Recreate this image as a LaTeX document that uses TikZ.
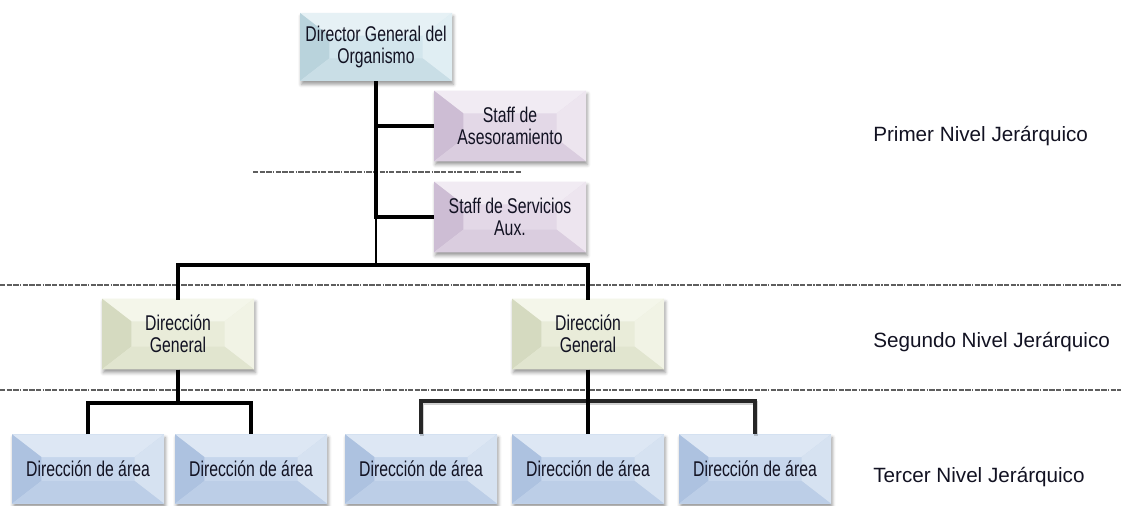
\documentclass[tikz,border=0pt]{standalone}
\usepackage{fontspec}
\setmainfont{Liberation Sans}
\newfontfamily\narrowfont[FakeStretch=0.74]{Liberation Sans}
\usetikzlibrary{shadows.blur}

% box palettes: face / light bevel / dark bevel
\definecolor{dirface}{HTML}{D3E6ED}
\definecolor{dirlight}{HTML}{E6F1F5}
\definecolor{dirdark}{HTML}{B9D3DC}
\definecolor{stfface}{HTML}{E3D8E7}
\definecolor{stflight}{HTML}{F1EBF3}
\definecolor{stfdark}{HTML}{CDBDD4}
\definecolor{dgface}{HTML}{E9ECD9}
\definecolor{dglight}{HTML}{F4F6EA}
\definecolor{dgdark}{HTML}{D5DAC0}
\definecolor{arface}{HTML}{C6D6EC}
\definecolor{arlight}{HTML}{DDE7F4}
\definecolor{ardark}{HTML}{ADC2E0}
\definecolor{ink}{HTML}{121222}
\definecolor{levelgrey}{HTML}{5E5E5E}
\definecolor{bracketgrey}{HTML}{262626}

\tikzset{
  x=0.75pt, y=-0.75pt,
  bevel/.style n args={3}{
    path picture={
      \fill[#1] (path picture bounding box.south west) rectangle (path picture bounding box.north east);
      \fill[#2] (path picture bounding box.north west) -- (path picture bounding box.north east)
        -- ([shift={(-22pt,-17pt)}]path picture bounding box.north east)
        -- ([shift={(22pt,-17pt)}]path picture bounding box.north west) -- cycle;
      \fill[#3] (path picture bounding box.north west) -- ([shift={(22pt,-17pt)}]path picture bounding box.north west)
        -- ([shift={(22pt,17pt)}]path picture bounding box.south west)
        -- (path picture bounding box.south west) -- cycle;
      \fill[#2!70!#1] (path picture bounding box.north east) -- ([shift={(-22pt,-17pt)}]path picture bounding box.north east)
        -- ([shift={(-22pt,17pt)}]path picture bounding box.south east)
        -- (path picture bounding box.south east) -- cycle;
      \fill[#3!40!#1] (path picture bounding box.south west) -- ([shift={(22pt,17pt)}]path picture bounding box.south west)
        -- ([shift={(-22pt,17pt)}]path picture bounding box.south east)
        -- (path picture bounding box.south east) -- cycle;
    }
  },
  box/.style={minimum width=114pt, minimum height=53pt, align=center, inner sep=2pt,
    font=\narrowfont\fontsize{16}{16.5}\selectfont, text=ink,
    blur shadow={shadow xshift=1pt, shadow yshift=-2.5pt, shadow blur radius=2.5pt, shadow opacity=40}},
  dirbox/.style={box, minimum height=51pt, bevel={dirface}{dirlight}{dirdark}},
  staffbox/.style={box, bevel={stfface}{stflight}{stfdark}},
  dgbox/.style={box, bevel={dgface}{dglight}{dgdark}},
  areabox/.style={box, minimum height=52pt, bevel={arface}{arlight}{ardark}},
  link/.style={line width=3pt, black},
  thinlink/.style={line width=1.4pt, black},
  greylink/.style={line width=2.6pt, bracketgrey},
  greyshade/.style={line width=3pt, black, opacity=0.18},
  level/.style={line width=0.8pt, levelgrey,
    dash pattern=on 4pt off 1pt on 4pt off 1pt on 4pt off 1pt on 1pt off 1pt},
  levellabel/.style={anchor=base west, font=\fontsize{15.5}{18}\selectfont, text=ink, inner sep=0pt}
}

\begin{document}
\begin{tikzpicture}
\useasboundingbox (0,0) rectangle (1121,506);

% level separators
\draw[level] (253,172) -- (522,172);
\draw[level] (0,285) -- (1121,285);
\draw[level] (0,390) -- (1121,390);

% boxes
\node[dirbox]   (dir)    at (376,47)  {Director General del\\Organismo};
\node[staffbox] (staffA) at (510,126) {Staff de\\Asesoramiento};
\node[staffbox] (staffS) at (510,217) {Staff de Servicios\\Aux.};
\node[dgbox]    (dgL)    at (178,334) {Dirección\\General};
\node[dgbox]    (dgR)    at (588,334) {Dirección\\General};
\node[areabox]  (a1)     at (88,469)  {Dirección de área};
\node[areabox]  (a2)     at (251,469) {Dirección de área};
\node[areabox]  (a3)     at (421,469) {Dirección de área};
\node[areabox]  (a4)     at (588,469) {Dirección de área};
\node[areabox]  (a5)     at (755,469) {Dirección de área};

% junction levels
\coordinate (trunkend) at (376,219);
\coordinate (hbar)     at (376,265);
\coordinate (jl)       at (178,403);
\coordinate (jr)       at (588,401);

% top trunk and staff branches
\draw[link] (dir.south) -- (trunkend);
\draw[thinlink] (trunkend) -- (hbar);
\draw[link] (staffA.west -| dir.south) -- (staffA.west);
\draw[link] (staffS.west -| dir.south) -- (staffS.west);
\draw[link,line cap=rect] (dgL.north) -- (dgL.north |- hbar) -- (dgR.north |- hbar) -- (dgR.north);

% left direction
\draw[link] (dgL.south) -- (jl);
\draw[link] (a1.north) -- (a1.north |- jl) -- (a2.north |- jl) -- (a2.north);

% right direction
\draw[greyshade] ([shift={(1pt,-1.5pt)}]a3.north) -- ([shift={(1pt,-1.5pt)}]a3.north |- jr) -- ([shift={(1pt,-1.5pt)}]a5.north |- jr) -- ([shift={(1pt,-1.5pt)}]a5.north);
\draw[greylink] (a3.north) -- (a3.north |- jr) -- (a5.north |- jr) -- (a5.north);
\draw[link] (dgR.south) -- (a4.north);

% level names
\node[levellabel] (lv1) at (873,142) {Primer Nivel Jerárquico};
\node[levellabel] (lv2) at (873,347) {Segundo Nivel Jerárquico};
\node[levellabel] (lv3) at (873,482) {Tercer Nivel Jerárquico};
\end{tikzpicture}
\end{document}
